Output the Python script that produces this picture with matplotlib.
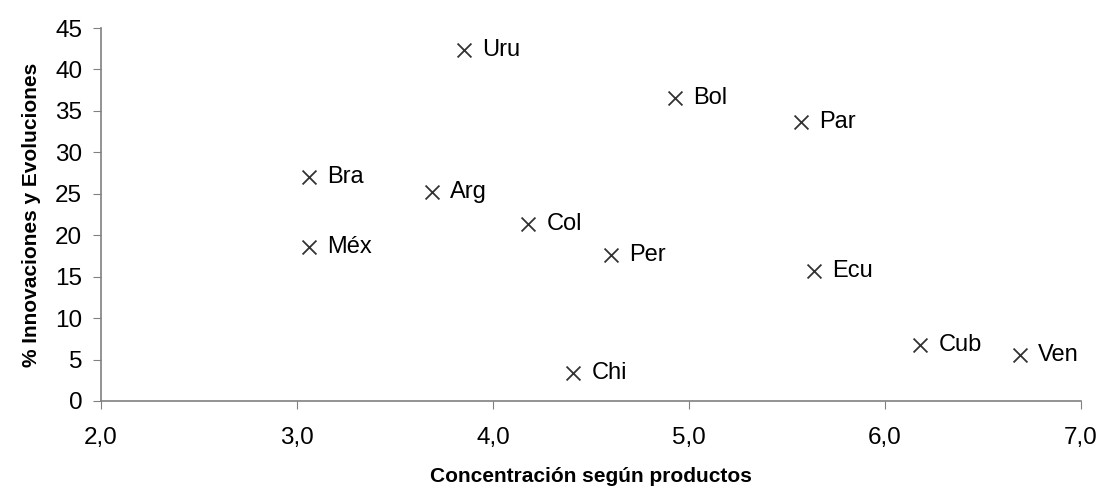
import matplotlib
matplotlib.use("Agg")
import matplotlib.pyplot as plt
from matplotlib.ticker import FuncFormatter, MultipleLocator

plt.rcParams['font.family'] = ['Liberation Sans', 'DejaVu Sans']

paises = ["Uru", "Bol", "Par", "Bra", "Arg", "Col", "Méx", "Per", "Ecu", "Cub", "Ven", "Chi"]
concentracion = [3.85, 4.93, 5.57, 3.06, 3.69, 4.18, 3.06, 4.60, 5.64, 6.18, 6.69, 4.41]
innovaciones = [42.3, 36.6, 33.7, 27.0, 25.2, 21.4, 18.6, 17.6, 15.7, 6.8, 5.6, 3.4]

fig = plt.figure(figsize=(10.99, 4.87), dpi=100)
ax = fig.add_axes([0.0919, 0.1766, 0.8917, 0.7659])

ax.scatter(concentracion, innovaciones, marker="x", s=100, color="#333333", linewidths=1.3, zorder=3)
for nombre, x, y in zip(paises, concentracion, innovaciones):
    ax.annotate(nombre, (x, y), xytext=(13, 0), textcoords="offset points",
                va="center", ha="left", fontsize=17)

ax.set_xlim(2.0, 7.0)
ax.set_ylim(0, 45)
ax.xaxis.set_major_locator(MultipleLocator(1.0))
ax.yaxis.set_major_locator(MultipleLocator(5))
ax.xaxis.set_major_formatter(FuncFormatter(lambda v, p: "{:.1f}".format(v).replace(".", ",")))

for s in ["top", "right"]:
    ax.spines[s].set_visible(False)
for s in ["left", "bottom"]:
    ax.spines[s].set_color("#808080")
    ax.spines[s].set_linewidth(1.2)
ax.tick_params(axis="both", direction="out", length=5.5, color="#808080", labelsize=17.5)
ax.tick_params(axis="y", pad=8)
ax.tick_params(axis="x", pad=13)

ax.set_xlabel("Concentración según productos", fontsize=15, fontweight="bold", labelpad=13)
ax.set_ylabel("% Innovaciones y Evoluciones", fontsize=15, fontweight="bold", labelpad=10)

fig.savefig("out.png", dpi=100)
